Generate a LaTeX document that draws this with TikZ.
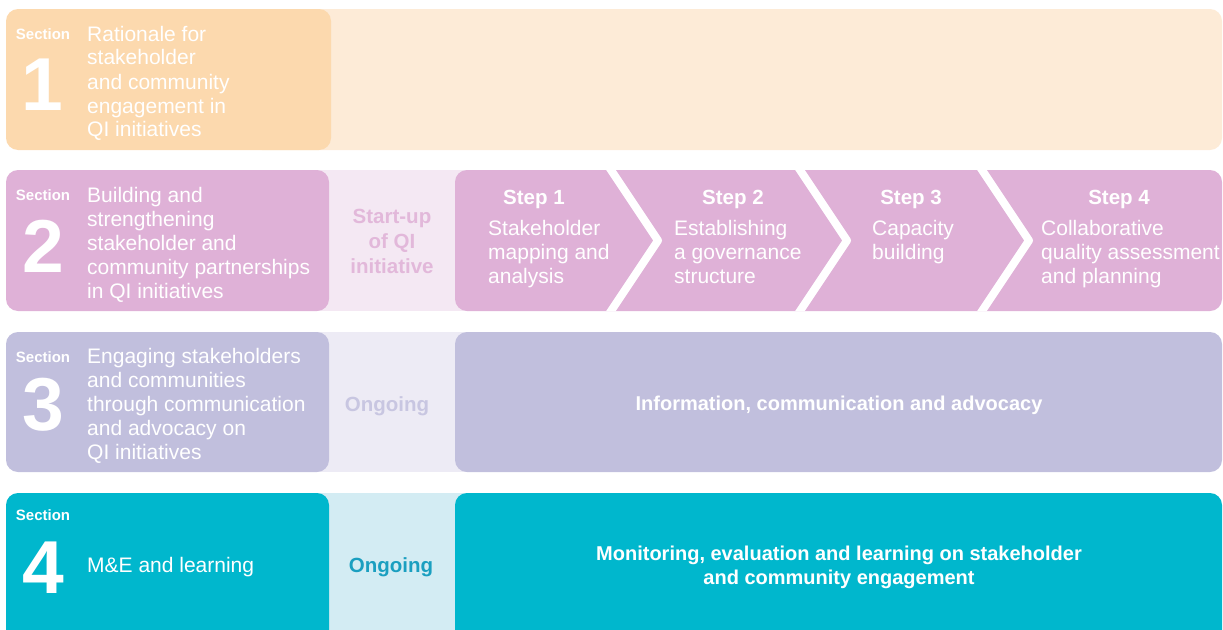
\documentclass[tikz,border=0pt]{standalone}
\usepackage{fontspec}
\setmainfont{Liberation Sans}
\definecolor{oneBox}{HTML}{FCD9AE}
\definecolor{oneBand}{HTML}{FDEBD7}
\definecolor{twoBox}{HTML}{DFB1D7}
\definecolor{twoBand}{HTML}{F4E8F3}
\definecolor{twoTxt}{HTML}{E2B8DA}
\definecolor{threeBox}{HTML}{C1BFDD}
\definecolor{threeBand}{HTML}{EDEBF5}
\definecolor{threeTxt}{HTML}{C8C6E1}
\definecolor{fourBox}{HTML}{00B7CD}
\definecolor{fourBand}{HTML}{D3ECF3}
\definecolor{fourTxt}{HTML}{1A9FC0}
\newcommand{\mlines}[2][l]{\begin{tabular}[t]{@{}#1@{}}#2\end{tabular}}
\tikzset{
  box/.style={rounded corners=12pt},
  body/.style={font=\fontsize{21}{24}\selectfont, text=white, inner sep=0pt, anchor=base west},
  seclbl/.style={font=\bfseries\fontsize{15}{18}\selectfont, text=white, inner sep=0pt, anchor=base},
  secnum/.style={font=\bfseries\fontsize{75}{80}\selectfont, text=white, inner sep=0pt, anchor=base},
  steph/.style={font=\bfseries\fontsize{20.5}{24}\selectfont, text=white, inner sep=0pt, anchor=base},
  phase/.style={font=\bfseries\fontsize{20.5}{25}\selectfont, inner sep=0pt, anchor=base},
  bigtxt/.style={font=\bfseries\fontsize{20}{24}\selectfont, text=white, inner sep=0pt, anchor=base},
  sepline/.style={draw=white, line width=8pt, line join=round}
}
\begin{document}
\begin{tikzpicture}[x=1pt,y=-1pt]
\useasboundingbox (0,0) rectangle (1223,629);
\clip (0,0) rectangle (1223,629);
% ---------- Row 1
\fill[oneBand, box] (250,9) rectangle (1222,150);
\fill[oneBox, box] (6,9) rectangle (331,150);
\node[seclbl] (s1) at (43,39) {Section};
\node[secnum] (n1) at (42,110) {1};
\node[body] (t1) at (87,41) {\mlines{Rationale for\\stakeholder\\and community\\engagement in\\QI initiatives}};
% ---------- Row 2
\fill[twoBand] (250,170) rectangle (480,311);
\fill[twoBox, box] (6,170) rectangle (329,311);
\fill[twoBox, box] (455,170) rectangle (1222,311);
\begin{scope}
\clip[box] (455,170) rectangle (1222,311);
\draw[sepline] (604.3,160) -- (658,240.5) -- (604.3,321);
\draw[sepline] (793.3,160) -- (847,240.5) -- (793.3,321);
\draw[sepline] (975.3,160) -- (1029,240.5) -- (975.3,321);
\end{scope}
\node[seclbl] (s2) at (43,200) {Section};
\node[secnum] (n2) at (43,272) {2};
\node[body] (t2) at (87,202) {\mlines{Building and\\strengthening\\stakeholder and\\community partnerships\\in QI initiatives}};
\node[phase, text=twoTxt] (p2) at (392,223) {\mlines[c]{Start-up\\of QI\\initiative}};
\node[steph] (h1) at (534,204) {Step 1};
\node[steph] (h2) at (733,204) {Step 2};
\node[steph] (h3) at (911,204) {Step 3};
\node[steph] (h4) at (1119,204) {Step 4};
\node[body] (b1) at (488,235) {\mlines{Stakeholder\\mapping and\\analysis}};
\node[body] (b2) at (674,235) {\mlines{Establishing\\a governance\\structure}};
\node[body] (b3) at (872,235) {\mlines{Capacity\\building}};
\node[body] (b4) at (1041,235) {\mlines{Collaborative\\quality assessment\\and planning}};
% ---------- Row 3
\fill[threeBand] (250,332) rectangle (480,472);
\fill[threeBox, box] (6,332) rectangle (329,472);
\fill[threeBox, box] (455,332) rectangle (1222,472);
\node[seclbl] (s3) at (43,362) {Section};
\node[secnum] (n3) at (43,430) {3};
\node[body] (t3) at (87,363) {\mlines{Engaging stakeholders\\and communities\\through communication\\and advocacy on\\QI initiatives}};
\node[phase, text=threeTxt] (p3) at (387,411) {Ongoing};
\node[bigtxt] (m3) at (839,410) {Information, communication and advocacy};
% ---------- Row 4
\fill[fourBand] (250,493) rectangle (480,650);
\fill[fourBox, box] (6,493) rectangle (329,650);
\fill[fourBox, box] (455,493) rectangle (1222,650);
\node[seclbl] (s4) at (43,520) {Section};
\node[secnum] (n4) at (43,593) {4};
\node[body] (t4) at (87,572) {M\&E and learning};
\node[phase, text=fourTxt] (p4) at (391,572) {Ongoing};
\node[bigtxt] (m4) at (839,560) {\mlines[c]{Monitoring, evaluation and learning on stakeholder\\and community engagement}};
\end{tikzpicture}
\end{document}
